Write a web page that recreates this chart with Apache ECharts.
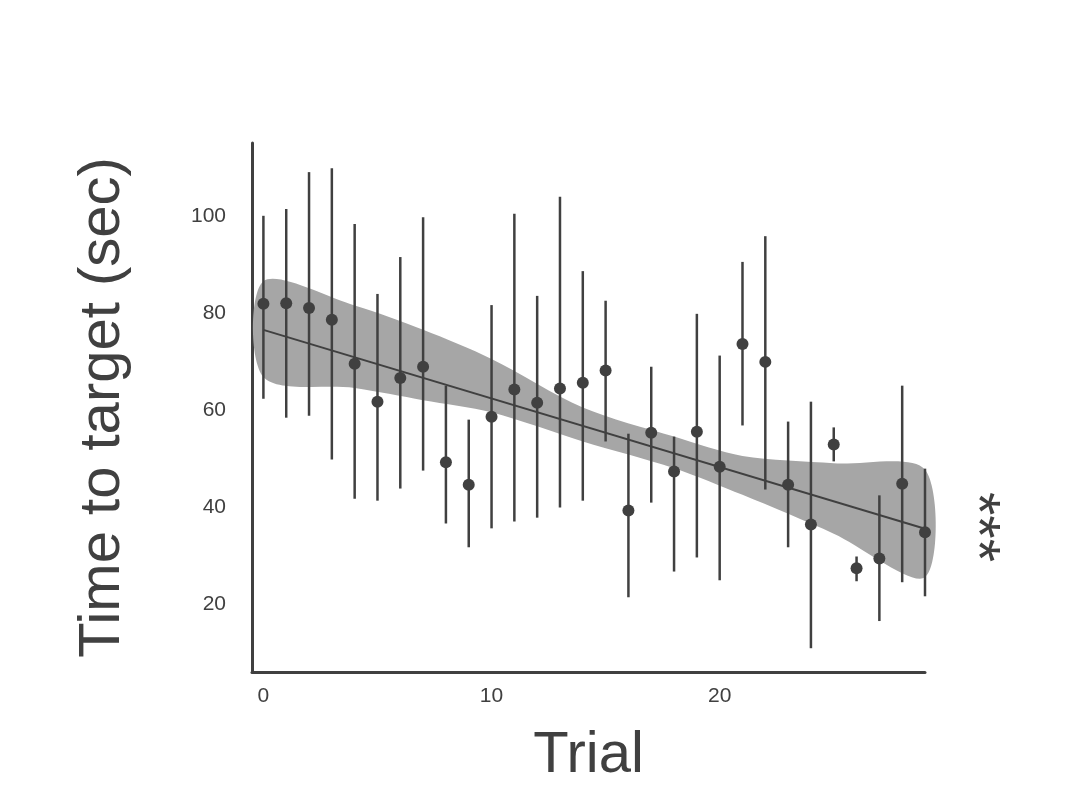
<!DOCTYPE html>
<html><head><meta charset="utf-8">
<script src="https://cdn.jsdelivr.net/npm/echarts@6/dist/echarts.min.js"></script>
<style>html,body{margin:0;background:#fff}#c{width:1075px;height:810px}</style>
</head><body><div id="c"></div>
<script>
const trials=[0,1,2,3,4,5,6,7,8,9,10,11,12,13,14,15,16,17,18,19,20,21,22,23,24,25,26,27,28,29];
const means=[81.9,82,81,78.6,69.5,61.7,66.6,68.9,49.2,44.6,58.6,64.2,61.5,64.4,65.6,68.1,39.3,55.3,47.3,55.5,48.3,73.6,69.9,44.6,36.4,52.9,27.4,29.4,44.8,34.8];
const upper=[100,101.4,109,109.8,98.3,83.9,91.5,99.7,65,58,81.6,100.4,83.5,103.9,88.6,82.5,55.1,68.9,54.5,79.8,71.2,90.5,95.8,57.6,61.7,56.4,29.8,42.4,65,47.9];
const lower=[62.3,58.4,58.8,49.8,41.7,41.3,43.8,47.5,36.6,31.7,35.6,37,37.8,39.9,41.3,53.5,21.4,40.9,26.7,29.6,24.9,56.8,43.6,31.7,10.9,49.4,24.7,16.5,24.5,21.6];
const fitX=[0,29];
const fitY=[76.5,35.5];
const bandX=[0,4,7,10,14,18,21,25,29];
const bandLo=[66.8,64.5,62,59.5,53.5,48,42.5,34.5,25.5];
const bandHi=[86.5,81.5,76.5,70.5,60.5,54.5,50.5,49,47.7];
const c='#404040';
const chart=echarts.init(document.getElementById('c'));
chart.setOption({
 animation:false,
 grid:{left:252,right:150,top:143,bottom:138},
 xAxis:{type:'value',min:-0.5,max:29,interval:10,name:'Trial',nameLocation:'middle',nameGap:55,
  nameTextStyle:{fontSize:58,color:c,fontFamily:'Liberation Sans'},
  axisLine:{onZero:false,lineStyle:{color:c,width:3}},axisTick:{show:false},splitLine:{show:false},
  axisLabel:{fontSize:21,color:c,margin:14,customValues:[0,10,20],fontFamily:'Liberation Sans'}},
 yAxis:{type:'value',min:6,max:115,name:'Time to target (sec)',nameLocation:'middle',nameGap:120,
  nameTextStyle:{fontSize:58,color:c,fontFamily:'Liberation Sans'},
  axisLine:{show:true,onZero:false,lineStyle:{color:c,width:3}},axisTick:{show:false},splitLine:{show:false},
  axisLabel:{fontSize:21,color:c,margin:26,customValues:[20,40,60,80,100],fontFamily:'Liberation Sans'}},
 graphic:[{type:'text',left:946,top:492,rotation:-Math.PI/2,style:{text:'***',fontSize:60,fill:c,fontFamily:'Liberation Sans'}}],
 series:[
  {type:'custom',data:[0],z:1,
   renderItem:(p,api)=>{const pts=bandX.map((x,i)=>api.coord([x,bandHi[i]])).concat(bandX.map((x,i)=>api.coord([x,bandLo[i]])).reverse());
    return {type:'polygon',shape:{points:pts,smooth:0.3},style:{fill:'#a6a6a6'}};}},
  {type:'line',data:fitX.map((x,i)=>[x,fitY[i]]),symbol:'none',lineStyle:{color:c,width:2},z:2},
  {type:'custom',data:trials.map((x,i)=>[x,lower[i],upper[i]]),z:3,
   renderItem:(p,api)=>{const a=api.coord([api.value(0),api.value(1)]),b=api.coord([api.value(0),api.value(2)]);
    return {type:'line',shape:{x1:a[0],y1:a[1],x2:b[0],y2:b[1]},style:{stroke:c,lineWidth:2.5}};}},
  {type:'scatter',data:trials.map((x,i)=>[x,means[i]]),symbolSize:12,itemStyle:{color:c,opacity:1},z:5}
 ]
});
</script></body></html>
